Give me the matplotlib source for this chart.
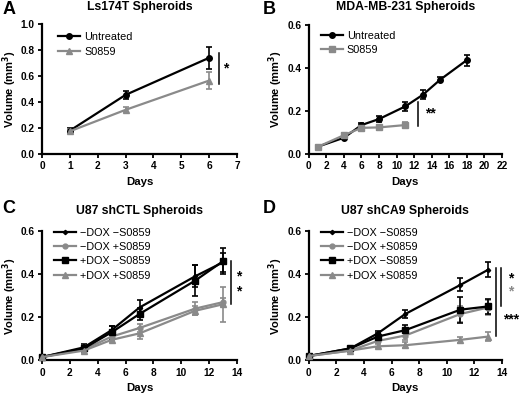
import matplotlib
matplotlib.use("Agg")
import matplotlib.pyplot as plt

plt.rcParams["font.family"] = ["Liberation Sans", "DejaVu Sans"]

BLACK = "black"
GRAY = "#8a8a8a"

# --- A: Ls174T spheroids ---
a_days = [1, 3, 6]
a_untr = [0.18, 0.455, 0.74]
a_untr_err = [0.02, 0.03, 0.085]
a_s0859 = [0.175, 0.34, 0.565]
a_s0859_err = [0.015, 0.02, 0.065]
ab_labels = ["Untreated", "S0859"]

# --- B: MDA-MB-231 spheroids ---
b_days_untr = [1, 4, 6, 8, 11, 13, 15, 18]
b_untr = [0.034, 0.076, 0.135, 0.163, 0.222, 0.276, 0.347, 0.437]
b_untr_err = [0.005, 0.008, 0.01, 0.012, 0.02, 0.02, 0.012, 0.025]
b_days_s = [1, 4, 6, 8, 11]
b_s0859 = [0.033, 0.088, 0.122, 0.124, 0.135]
b_s0859_err = [0.004, 0.01, 0.015, 0.01, 0.012]

# --- C / D: U87 spheroids ---
cd_days = [0, 3, 5, 7, 11, 13]
series_labels = ["\u2212DOX \u2212S0859", "\u2212DOX +S0859",
                 "+DOX \u2212S0859", "+DOX +S0859"]

c_vals = [
    [0.015, 0.06, 0.14, 0.245, 0.39, 0.455],
    [0.015, 0.05, 0.11, 0.15, 0.24, 0.27],
    [0.015, 0.055, 0.13, 0.215, 0.37, 0.46],
    [0.015, 0.045, 0.095, 0.125, 0.23, 0.26],
]
c_errs = [
    [0.003, 0.015, 0.02, 0.035, 0.05, 0.045],
    [0.003, 0.01, 0.015, 0.02, 0.03, 0.02],
    [0.003, 0.01, 0.03, 0.03, 0.07, 0.06],
    [0.003, 0.01, 0.01, 0.025, 0.02, 0.08],
]

d_vals = [
    [0.02, 0.055, 0.125, 0.215, 0.35, 0.42],
    [0.02, 0.045, 0.09, 0.115, 0.215, 0.245],
    [0.02, 0.055, 0.11, 0.14, 0.235, 0.25],
    [0.02, 0.045, 0.065, 0.07, 0.095, 0.11],
]
d_errs = [
    [0.003, 0.005, 0.01, 0.02, 0.03, 0.035],
    [0.003, 0.005, 0.01, 0.02, 0.035, 0.035],
    [0.003, 0.005, 0.015, 0.025, 0.06, 0.035],
    [0.003, 0.005, 0.01, 0.015, 0.015, 0.02],
]

cd_colors = [BLACK, GRAY, BLACK, GRAY]
cd_markers = ["D", "o", "s", "^"]
cd_msizes = [2.2, 3.5, 4.0, 4.0]


def style_axes(ax, xmax, xstep, ymax, ystep):
    ax.set_xlim(0, xmax)
    ax.set_ylim(0, ymax)
    ax.set_xticks(range(0, xmax + 1, xstep))
    nt = int(round(ymax / ystep))
    ax.set_yticks([i * ystep for i in range(nt + 1)])
    ax.yaxis.set_major_formatter(matplotlib.ticker.FormatStrFormatter("%.1f"))
    for s in ("top", "right"):
        ax.spines[s].set_visible(False)
    for s in ("left", "bottom"):
        ax.spines[s].set_linewidth(1.6)
    ax.tick_params(direction="out", length=3.2, width=1.3, labelsize=7.3, pad=2)
    for lab in ax.get_xticklabels() + ax.get_yticklabels():
        lab.set_fontweight("bold")
    ax.set_xlabel("Days", fontsize=8.2, fontweight="bold", labelpad=4)
    ax.set_ylabel("Volume (mm$^\\mathbf{3}$)", fontsize=8, fontweight="bold", labelpad=1.5)


def series(ax, x, y, e, color, marker, ms):
    cont = ax.errorbar(x, y, yerr=e, color=color, marker=marker, ms=ms, lw=1.6,
                       elinewidth=1.2, capsize=2.5, capthick=1.2,
                       clip_on=False, zorder=3)
    return cont[0]


def sig_bar(ax, x, y0, y1, color=BLACK):
    ax.plot([x, x], [y0, y1], color=color, lw=1.1, clip_on=False)


def star(ax, x, y, txt, color=BLACK):
    ax.text(x, y, txt, ha="center", va="center", fontsize=10, fontweight="bold",
            color=color, clip_on=False)


def legend(ax, handles, labels, anchor):
    leg = ax.legend(handles, labels, loc="upper left", bbox_to_anchor=anchor,
                    frameon=False, fontsize=7.8, handlelength=2.0,
                    handletextpad=0.4, labelspacing=0.4, borderaxespad=0)
    return leg


fig = plt.figure(figsize=(5.2, 3.93), dpi=100)
axA = fig.add_axes([0.0808, 0.608, 0.375, 0.331])
axB = fig.add_axes([0.594, 0.608, 0.371, 0.328])
axC = fig.add_axes([0.0808, 0.0832, 0.375, 0.329])
axD = fig.add_axes([0.594, 0.0832, 0.371, 0.329])

# A
hA = [series(axA, a_days, a_untr, a_untr_err, BLACK, "o", 4),
      series(axA, a_days, a_s0859, a_s0859_err, GRAY, "^", 4)]
style_axes(axA, 7, 1, 1.0, 0.2)
axA.set_title("Ls174T Spheroids", fontsize=8.8, fontweight="bold", pad=10)
legend(axA, hA, ab_labels, (0.06, 0.97))
sig_bar(axA, 6.35, 0.536, 0.78)
star(axA, 6.6, 0.655, "*")

# B
hB = [series(axB, b_days_untr, b_untr, b_untr_err, BLACK, "o", 4),
      series(axB, b_days_s, b_s0859, b_s0859_err, GRAY, "s", 4)]
style_axes(axB, 22, 2, 0.6, 0.2)
axB.set_title("MDA-MB-231 Spheroids", fontsize=8.8, fontweight="bold", pad=11)
legend(axB, hB, ab_labels, (0.04, 0.99))
sig_bar(axB, 12.45, 0.132, 0.243)
star(axB, 13.8, 0.19, "**")

# C
hC = [series(axC, cd_days, vals, errs, col, mk, ms)
      for vals, errs, col, mk, ms in zip(c_vals, c_errs, cd_colors,
                                         cd_markers, cd_msizes)]
style_axes(axC, 14, 2, 0.6, 0.2)
axC.set_title("U87 shCTL Spheroids", fontsize=8.8, fontweight="bold", pad=12)
legend(axC, hC, series_labels, (0.04, 1.06))
sig_bar(axC, 13.6, 0.261, 0.462)
star(axC, 14.1, 0.39, "*")
star(axC, 14.1, 0.32, "*")

# D
hD = [series(axD, cd_days, vals, errs, col, mk, ms)
      for vals, errs, col, mk, ms in zip(d_vals, d_errs, cd_colors,
                                         cd_markers, cd_msizes)]
style_axes(axD, 14, 2, 0.6, 0.2)
axD.set_title("U87 shCA9 Spheroids", fontsize=8.8, fontweight="bold", pad=12)
legend(axD, hD, series_labels, (0.04, 1.06))
sig_bar(axD, 13.56, 0.113, 0.43)
sig_bar(axD, 13.97, 0.25, 0.43)
star(axD, 14.65, 0.38, "*")
star(axD, 14.65, 0.32, "*", GRAY)
star(axD, 14.65, 0.19, "***")

# panel letters
for letter, x, y in (("A", 0.005, 0.955), ("B", 0.505, 0.955),
                     ("C", 0.005, 0.447), ("D", 0.505, 0.447)):
    fig.text(x, y, letter, fontsize=13, fontweight="bold", ha="left", va="bottom")

fig.savefig("out.png", dpi=100)
